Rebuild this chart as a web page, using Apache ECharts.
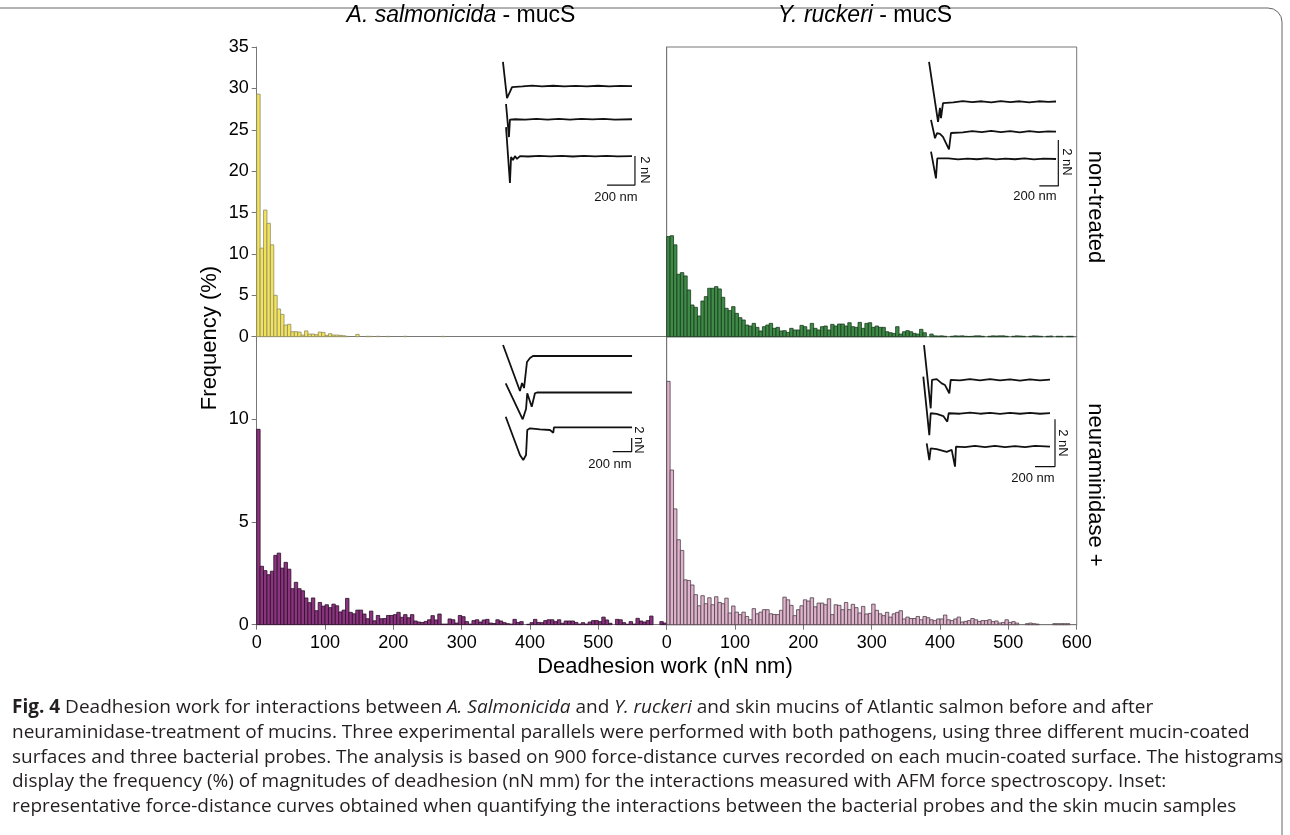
<!DOCTYPE html>
<html><head><meta charset="utf-8">
<script src="https://cdn.jsdelivr.net/npm/echarts@6/dist/echarts.min.js"></script>
<style>html,body{margin:0;padding:0;background:#fff}#c{width:1290px;height:835px}</style>
</head><body><div id="c"></div>
<script>
// ---------- DATA ----------
const binWidth = 5; // nN nm per bin
const xTicks = [0, 100, 200, 300, 400, 500, 600];
const yTicksTop = [0, 5, 10, 15, 20, 25, 30, 35];
const yTicksBottom = [0, 5, 10];
const columnTitles = ['A. salmonicida', 'Y. ruckeri'];
const rowTitles = ['non-treated', 'neuraminidase +'];

// A. salmonicida, non-treated (yellow)
const asalNonTreated = [29.3,10.7,15.3,13.7,11.1,5.0,3.35,2.7,1.4,1.5,
 0.6,0.6,0.56,0.2,0.7,0.32,0.32,0.24,0.56,0.52,
 0.16,0.36,0.2,0.2,0.16,0.12,0.04,0,0,0.28,
 0,0,0.05,0.04,0,0.05,0,0,0.04,0,
 0,0,0,0.05,0,0,0,0,0,0,
 0,0,0,0,0.04,0,0,0,0,0,
 0,0,0,0,0,0,0,0,0,0,
 0,0,0,0,0,0,0,0,0,0,
 0,0,0,0,0,0,0,0,0,0,
 0,0,0,0,0,0,0,0,0,0,
 0,0,0,0,0,0,0,0,0,0,
 0,0,0,0,0,0,0,0,0,0];
// Y. ruckeri, non-treated (green)
const yrucNonTreated = [12.1,12.2,11.1,7.54,7.74,7.34,5.65,3.83,3.55,2.5,
 4.31,4.84,5.85,5.85,6.05,5.77,4.76,3.43,3.15,3.63,
 2.82,2.3,2.02,1.41,1.29,1.61,1.13,0.69,1.21,1.41,
 1.61,1.01,1.13,0.69,0.73,0.52,1.01,0.81,0.81,1.37,
 1.21,0.81,1.61,1.01,0.81,1.21,1.29,0.81,1.49,1.29,
 1.53,1.53,1.29,1.69,1.21,1.13,1.73,1.01,1.61,1.69,
 1.13,1.29,1.13,1.13,0.6,0.48,0.4,1.21,0.32,0.6,
 0.73,0.6,0.4,0.32,0.89,0.48,0,0.32,0.1,0.08,
 0.1,0.05,0,0.05,0.1,0.08,0.1,0.05,0.03,0.05,
 0.1,0.1,0.05,0,0.05,0.1,0.08,0.1,0.1,0.05,
 0,0.05,0.1,0.08,0.05,0,0.05,0.1,0.08,0.05,
 0,0.05,0.08,0,0.05,0.05,0,0.05,0.05,0];
// A. salmonicida, neuraminidase + (purple)
const asalNeuraminidase = [9.5,2.84,2.63,2.43,2.6,3.37,3.48,2.75,3.03,2.7,
 1.75,2.06,1.75,1.65,1.3,1.07,1.3,0.68,1.08,0.9,
 0.97,0.83,1.0,0.92,0.62,0.71,1.28,0.6,0.53,0.71,
 0.71,0.52,0.29,0.66,0.19,0.45,0.29,0.3,0.45,0.45,
 0.49,0.6,0.36,0.49,0.34,0.49,0.18,0.13,0.11,0.16,
 0.24,0.44,0.23,0.52,0.03,0.03,0.28,0.24,0.08,0.45,
 0.39,0.15,0.03,0.2,0.24,0.13,0.23,0.26,0.08,0.06,
 0.24,0.18,0.1,0.05,0.03,0.26,0.11,0.15,0,0.02,
 0.1,0.26,0.11,0.1,0.2,0.24,0.24,0.15,0.24,0.07,
 0.18,0.18,0.18,0.11,0.03,0.1,0.03,0.13,0.2,0.2,
 0.15,0.37,0.23,0.07,0,0.26,0.24,0.1,0.02,0.15,
 0.03,0.31,0.18,0.13,0.2,0.42,0,0,0.15,0.08];
// Y. ruckeri, neuraminidase + (pink)
const yrucNeuraminidase = [11.83,7.52,5.63,4.13,3.61,2.18,2.15,1.93,1.46,0.92,
 1.41,1.02,1.31,0.97,1.36,1.08,1.02,1.29,0.57,0.91,
 0.61,0.49,0.61,0.4,0.24,0.78,0.53,0.61,0.73,0.73,
 0.53,0.5,0.49,0.7,1.34,1.21,0.94,0.44,0.73,0.92,
 1.21,1.15,1.31,0.87,1.05,1.05,0.97,1.26,0.49,0.97,
 0.94,0.73,1.08,0.73,0.99,0.83,0.57,0.89,0.52,0.55,
 1.0,0.7,0.53,0.44,0.6,0.37,0.53,0.6,0.68,0.28,
 0.37,0.3,0.3,0.4,0.24,0.4,0.34,0.24,0.2,0.28,
 0.28,0.47,0.24,0.2,0.28,0.37,0.13,0.16,0.2,0.3,
 0.24,0.16,0.2,0.2,0.24,0.15,0.18,0.08,0.11,0.24,
 0.11,0.15,0.08,0,0,0.05,0.08,0.05,0.03,0,
 0,0,0,0.05,0.05,0.05,0.05,0.05,0,0];

// Inset force-distance curves: [distance nm, force nN] (offset traces)
const insetAsalNT = [
 [[21,9.52],[50,7.03],[71,7.45],[86,7.79],[100,7.86],[160,7.83],[230,7.89],[300,7.84],[380,7.88],[460,7.83],[540,7.87],[620,7.84],[700,7.88],[780,7.83],[860,7.87],[943,7.85]],
 [[43,6.62],[64,4.34],[71,5.55],[110,5.57],[180,5.54],[260,5.6],[340,5.55],[420,5.59],[500,5.55],[580,5.6],[660,5.56],[740,5.59],[820,5.55],[943,5.57]],
 [[43,5.03],[71,1.17],[79,2.97],[93,2.76],[107,3.03],[121,2.83],[143,3.03],[200,3.0],[280,3.05],[360,3.01],[440,3.05],[520,3.0],[600,3.04],[680,3.01],[760,3.05],[840,3.01],[943,3.03]]
];
const barAsalNT = [[964,3.03],[964,1.03],[764,1.03]];
const insetYrucNT = [
 [[95,6.22],[190,3.61],[210,4.22],[221,3.78],[242,4.43],[263,4.49],[350,4.46],[450,4.52],[550,4.47],[650,4.51],[750,4.46],[850,4.52],[950,4.47],[1050,4.51],[1150,4.46],[1250,4.51],[1350,4.48],[1432,4.5]],
 [[116,3.70],[158,2.9],[179,3.13],[210,3.09],[242,2.96],[305,2.42],[326,3.13],[347,3.19],[450,3.16],[550,3.21],[650,3.17],[750,3.22],[850,3.17],[950,3.21],[1050,3.16],[1150,3.21],[1250,3.17],[1350,3.2],[1432,3.19]],
 [[116,2.32],[168,1.16],[182,2.03],[200,2.0],[300,2.03],[400,1.98],[500,2.02],[600,1.99],[700,2.03],[800,1.98],[900,2.02],[1000,1.99],[1100,2.03],[1200,1.98],[1300,2.02],[1432,2.0]]
];
const barYrucNT = [[1456,2.83],[1456,0.83],[1256,0.83]];
const insetAsalNeu = [
 [[32,18.74],[210,11.84],[232,13.04],[253,12.29],[284,16.19],[316,16.79],[347,17.09],[450,17.09],[600,17.09],[800,17.09],[1000,17.09],[1200,17.09],[1390,17.09]],
 [[60,13.0],[239,7.6],[274,9.15],[287,11.5],[334,9.49],[368,11.5],[390,11.62],[500,11.62],[700,11.62],[900,11.62],[1100,11.62],[1390,11.62]],
 [[60,7.99],[210,2.25],[245,1.5],[274,2.25],[287,6.0],[316,6.25],[420,6.1],[526,6.0],[561,5.59],[568,6.4],[700,6.4],[900,6.4],[1100,6.4],[1390,6.4]]
];
const barAsalNeu = [[1386,4.8],[1386,2.74],[1186,2.74]];
const insetYrucNeu = [
 [[90,5.74],[157,3.05],[170,4.26],[217,4.29],[267,4.11],[300,4.04],[343,3.69],[357,4.26],[450,4.24],[550,4.29],[650,4.24],[750,4.29],[850,4.24],[950,4.28],[1050,4.23],[1150,4.28],[1250,4.24],[1350,4.27]],
 [[83,4.4],[143,1.91],[157,2.84],[217,2.81],[283,2.72],[323,2.48],[337,2.84],[450,2.82],[550,2.87],[650,2.82],[750,2.86],[850,2.81],[950,2.86],[1050,2.82],[1150,2.86],[1250,2.82],[1350,2.85]],
 [[117,1.56],[143,0.85],[157,1.35],[217,1.31],[317,1.2],[367,1.28],[400,0.57],[410,1.42],[500,1.4],[600,1.45],[700,1.4],[800,1.45],[900,1.4],[1000,1.44],[1100,1.4],[1200,1.45],[1350,1.42]]
];
const barYrucNeu = [[1400,2.58],[1400,0.57],[1200,0.57]];

// ---------- CHART ----------
const FONT = 'Liberation Sans, Arial, sans-serif';
const toBins = arr => arr.map((v, i) => [i * binWidth, (i + 1) * binWidth, v]);
function histRender(fill, stroke) {
  return function (params, api) {
    const v = api.value(2);
    if (!(v > 0)) return null;
    const a = api.coord([api.value(0), 0]);
    const b = api.coord([api.value(1), v]);
    return { type: 'rect', shape: { x: a[0], y: b[1], width: b[0] - a[0], height: a[1] - b[1] },
      style: { fill: fill, stroke: stroke, lineWidth: 0.8 } };
  };
}
const axisGray = '#777';
const grids = [
  { left: 256.7, top: 47, width: 410, height: 289.7 },
  { left: 666.7, top: 47, width: 410, height: 289.7, show: true, borderColor: axisGray, borderWidth: 1, backgroundColor: 'transparent' },
  { left: 256.7, top: 336.7, width: 410, height: 288 },
  { left: 666.7, top: 336.7, width: 410, height: 288, show: true, borderColor: axisGray, borderWidth: 1, backgroundColor: 'transparent' },
  { left: 500, top: 55, width: 140, height: 145 },
  { left: 920, top: 55.5, width: 142.5, height: 149.5 },
  { left: 500, top: 336.6, width: 142.5, height: 133.4 },
  { left: 915, top: 339, width: 150, height: 141 }
];
const labelStyle = { color: '#000', fontSize: 18, fontFamily: FONT };
function histX(idx, showLabels, hideLast) {
  return { gridIndex: idx, type: 'value', min: 0, max: 600, interval: 100,
    axisLine: { show: true, lineStyle: { color: axisGray, width: 1 } },
    axisTick: { show: showLabels, length: 5, lineStyle: { color: axisGray } },
    axisLabel: { show: showLabels, margin: 9, ...labelStyle,
      formatter: v => (hideLast && v === 600) ? '' : (xTicks.includes(v) ? String(v) : '') },
    splitLine: { show: false } };
}
function histY(idx, max, ticks, showLabels) {
  return { gridIndex: idx, type: 'value', min: 0, max: max, interval: 5,
    axisLine: { show: true, lineStyle: { color: axisGray, width: 1 } },
    axisTick: { show: showLabels, length: 5, lineStyle: { color: axisGray } },
    axisLabel: { show: showLabels, margin: 8, ...labelStyle,
      formatter: v => ticks.includes(v) ? String(v) : '' },
    splitLine: { show: false } };
}
const insetRanges = [[1000, 10], [1500, 6.5], [1500, 20], [1500, 6]];
const xAxes = [histX(0, false), histX(1, false), histX(2, true, true), histX(3, true, false)];
const yAxes = [histY(0, 35, yTicksTop, true), histY(1, 35, yTicksTop, false),
               histY(2, 14, yTicksBottom, true), histY(3, 14, yTicksBottom, false)];
insetRanges.forEach((r, k) => {
  xAxes.push({ gridIndex: 4 + k, type: 'value', min: 0, max: r[0], show: false });
  yAxes.push({ gridIndex: 4 + k, type: 'value', min: 0, max: r[1], show: false });
});

const series = [];
const panels = [
  [asalNonTreated, '#F3E35C', '#8d8a66'],
  [yrucNonTreated, '#3E8A47', '#1b3a1e'],
  [asalNeuraminidase, '#8C3480', '#2a0f27'],
  [yrucNeuraminidase, '#E0B3CC', '#4d3f48']
];
panels.forEach((p, i) => {
  series.push({ type: 'custom', xAxisIndex: i, yAxisIndex: i, data: toBins(p[0]),
    encode: { x: [0, 1], y: 2 }, renderItem: histRender(p[1], p[2]), clip: false });
});
const insets = [[insetAsalNT, barAsalNT], [insetYrucNT, barYrucNT], [insetAsalNeu, barAsalNeu], [insetYrucNeu, barYrucNeu]];
insets.forEach((ins, k) => {
  ins[0].forEach(curve => series.push({ type: 'line', xAxisIndex: 4 + k, yAxisIndex: 4 + k, data: curve,
    showSymbol: false, symbol: 'none', lineStyle: { color: '#111', width: 1.8 }, clip: false }));
  series.push({ type: 'line', xAxisIndex: 4 + k, yAxisIndex: 4 + k, data: ins[1],
    showSymbol: false, symbol: 'none', lineStyle: { color: '#111', width: 1.2 }, clip: false });
});

const small = { fontSize: 13, fontFamily: FONT, fill: '#111' };
const capFont = 'Open Sans, Noto Sans, sans-serif';
const CAP = 19;
const capStyle = { fontSize: CAP, fontFamily: capFont, fill: '#231f20' };
const capRich = {
  b: { fontSize: CAP, fontFamily: capFont, fontWeight: 'bold', fill: '#231f20' },
  i: { fontSize: CAP, fontFamily: capFont, fontStyle: 'italic', fill: '#231f20' }
};
const captionLines = [
  '{b|Fig. 4} Deadhesion work for interactions between {i|A. Salmonicida} and {i|Y. ruckeri} and skin mucins of Atlantic salmon before and after',
  'neuraminidase-treatment of mucins. Three experimental parallels were performed with both pathogens, using three different mucin-coated',
  'surfaces and three bacterial probes. The analysis is based on 900 force-distance curves recorded on each mucin-coated surface. The histograms',
  'display the frequency (%) of magnitudes of deadhesion (nN mm) for the interactions measured with AFM force spectroscopy. Inset:',
  'representative force-distance curves obtained when quantifying the interactions between the bacterial probes and the skin mucin samples'
];
const TS = 23;
const titleRich = { it: { fontSize: TS, fontFamily: FONT, fontStyle: 'italic', fill: '#000' },
                    n: { fontSize: TS, fontFamily: FONT, fill: '#000' } };
const graphics = [
  { type: 'rect', shape: { x: -20, y: 8, width: 1302, height: 900, r: 14 }, style: { fill: 'none', stroke: '#666', lineWidth: 1 }, silent: true },
  { type: 'text', x: 461, y: 16, style: { text: '{it|' + columnTitles[0] + '}{n| - mucS}', rich: titleRich, align: 'center', verticalAlign: 'middle' } },
  { type: 'text', x: 865, y: 16, style: { text: '{it|' + columnTitles[1] + '}{n| - mucS}', rich: titleRich, align: 'center', verticalAlign: 'middle' } },
  { type: 'text', x: 210, y: 338, rotation: Math.PI / 2, style: { text: 'Frequency (%)', fontSize: 22, fontFamily: FONT, fill: '#000', align: 'center', verticalAlign: 'middle' } },
  { type: 'text', x: 665, y: 667, style: { text: 'Deadhesion work (nN nm)', fontSize: 22, fontFamily: FONT, fill: '#000', align: 'center', verticalAlign: 'middle' } },
  { type: 'text', x: 1095, y: 207, rotation: -Math.PI / 2, style: { text: rowTitles[0], fontSize: 22, fontFamily: FONT, fill: '#000', align: 'center', verticalAlign: 'middle' } },
  { type: 'text', x: 1095, y: 485, rotation: -Math.PI / 2, style: { text: rowTitles[1], fontSize: 22, fontFamily: FONT, fill: '#000', align: 'center', verticalAlign: 'middle' } },
  // scale bar labels
  { type: 'text', x: 645, y: 170, rotation: -Math.PI / 2, style: Object.assign({ text: '2 nN', align: 'center', verticalAlign: 'middle' }, small) },
  { type: 'text', x: 616, y: 197, style: Object.assign({ text: '200 nm', align: 'center', verticalAlign: 'middle' }, small) },
  { type: 'text', x: 1067, y: 162, rotation: -Math.PI / 2, style: Object.assign({ text: '2 nN', align: 'center', verticalAlign: 'middle' }, small) },
  { type: 'text', x: 1035, y: 196, style: Object.assign({ text: '200 nm', align: 'center', verticalAlign: 'middle' }, small) },
  { type: 'text', x: 639, y: 440, rotation: -Math.PI / 2, style: Object.assign({ text: '2 nN', align: 'center', verticalAlign: 'middle' }, small) },
  { type: 'text', x: 610, y: 464, style: Object.assign({ text: '200 nm', align: 'center', verticalAlign: 'middle' }, small) },
  { type: 'text', x: 1063, y: 443, rotation: -Math.PI / 2, style: Object.assign({ text: '2 nN', align: 'center', verticalAlign: 'middle' }, small) },
  { type: 'text', x: 1033, y: 478, style: Object.assign({ text: '200 nm', align: 'center', verticalAlign: 'middle' }, small) }
];
captionLines.forEach((t, i) => graphics.push({ type: 'text', x: 12, y: 708 + i * 24.6,
  style: Object.assign({ text: t, rich: capRich, align: 'left', verticalAlign: 'middle' }, capStyle) }));

const chart = echarts.init(document.getElementById('c'), null, { renderer: 'canvas' });
chart.setOption({
  animation: false,
  backgroundColor: '#fff',
  grid: grids,
  xAxis: xAxes,
  yAxis: yAxes,
  series: series,
  graphic: graphics
});
</script></body></html>
